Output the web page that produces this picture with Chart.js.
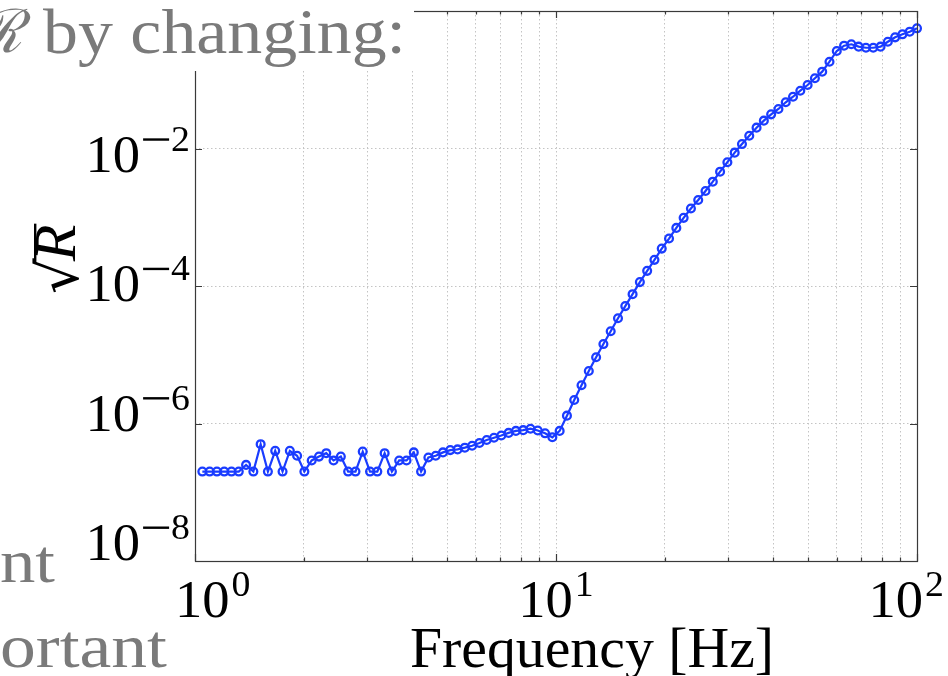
<!DOCTYPE html>
<html>
<head>
<meta charset="utf-8">
<script src="https://cdn.jsdelivr.net/npm/chart.js@4.4.0/dist/chart.umd.min.js"></script>
<style>
  html, body { margin: 0; padding: 0; background: #fff; }
  canvas { display: block; }
</style>
</head>
<body>
<canvas id="chart" width="948" height="676"></canvas>
<script>
// frequency grid (log spaced, 1 Hz .. 100 Hz)
const freqHz = [
  1.048, 1.098, 1.150, 1.205, 1.262, 1.322, 1.385, 1.451, 1.520, 1.592,
  1.668, 1.748, 1.831, 1.918, 2.009, 2.105, 2.205, 2.310, 2.420, 2.535,
  2.656, 2.783, 2.915, 3.054, 3.199, 3.352, 3.511, 3.678, 3.854, 4.037,
  4.229, 4.431, 4.642, 4.863, 5.094, 5.337, 5.591, 5.857, 6.136, 6.428,
  6.734, 7.055, 7.391, 7.743, 8.111, 8.498, 8.902, 9.326, 9.770, 10.235,
  10.723, 11.233, 11.768, 12.328, 12.915, 13.530, 14.175, 14.850, 15.557, 16.298,
  17.074, 17.887, 18.738, 19.630, 20.565, 21.544, 22.570, 23.645, 24.771, 25.950,
  27.186, 28.480, 29.836, 31.257, 32.745, 34.305, 35.938, 37.649, 39.442, 41.320,
  43.288, 45.349, 47.508, 49.770, 52.140, 54.623, 57.224, 59.948, 62.803, 65.793,
  68.926, 72.208, 75.646, 79.248, 83.022, 86.975, 91.116, 95.455, 100.0
];

// sqrt(R) at each frequency
const sqrtR = [
  2.0e-7, 2.0e-7, 2.0e-7, 2.0e-7, 2.0e-7, 2.0e-7, 2.5e-7, 2.0e-7, 5.0e-7, 2.0e-7,
  4.0e-7, 2.0e-7, 4.0e-7, 3.4e-7, 2.0e-7, 2.9e-7, 3.3e-7, 3.7e-7, 2.9e-7, 3.3e-7,
  2.0e-7, 2.0e-7, 3.9e-7, 2.0e-7, 2.0e-7, 3.7e-7, 2.0e-7, 2.9e-7, 2.9e-7, 3.8e-7,
  2.0e-7, 3.2e-7, 3.4e-7, 3.8e-7, 4.1e-7, 4.2e-7, 4.45e-7, 4.75e-7, 5.2e-7, 5.75e-7,
  6.2e-7, 6.7e-7, 7.3e-7, 7.8e-7, 8.0e-7, 8.4e-7, 7.9e-7, 7.2e-7, 6.3e-7, 7.8e-7,
  1.3e-6, 2.2e-6, 3.6e-6, 5.8e-6, 9.2e-6, 1.43e-5, 2.2e-5, 3.4e-5, 5.1e-5, 7.6e-5,
  1.14e-4, 1.66e-4, 2.4e-4, 3.5e-4, 4.9e-4, 7.0e-4, 9.8e-4, 1.34e-3, 1.78e-3, 2.41e-3,
  3.29e-3, 4.6e-3, 6.3e-3, 8.7e-3, 1.16e-2, 1.53e-2, 2.01e-2, 2.54e-2, 3.14e-2, 3.76e-2,
  4.7e-2, 5.66e-2, 6.93e-2, 8.39e-2, 0.105, 0.131, 0.183, 0.262, 0.313, 0.328,
  0.303, 0.292, 0.292, 0.303, 0.357, 0.414, 0.458, 0.50, 0.56
];

// ticks / grid positions
const xGridTicks = [1, 2, 3, 4, 5, 6, 7, 8, 9, 10, 20, 30, 40, 50, 60, 70, 80, 90, 100];
const xLabelExps = [0, 1, 2];
const yGridTicks = [1e-8, 1e-6, 1e-4, 1e-2, 1];
const yLabelExps = [-8, -6, -4, -2];

const lineBlue  = '#1a3cff';
const axisColor = '#3a3a3a';
const slideGrey = '#7a7a7a';
const MANT_FONT = '52px "Liberation Serif"';
const EXP_FONT  = '36px "Liberation Serif"';
const STRETCH   = 1.05;

function powerWidth(ctx, exp) {
  ctx.font = MANT_FONT;
  const wm = ctx.measureText('10').width * STRETCH;
  ctx.font = EXP_FONT;
  const wd = ctx.measureText(String(Math.abs(exp))).width * STRETCH;
  const wneg = exp < 0 ? 29 : 0;
  return { wm, wd, wneg, total: wm + 2 + wneg + wd };
}

// draws 10^exp with its left edge at `left` and mantissa baseline at `base`
function drawPower(ctx, exp, left, base) {
  const p = powerWidth(ctx, exp);
  ctx.save();
  ctx.translate(left, base);
  ctx.scale(STRETCH, 1);
  ctx.font = MANT_FONT;
  ctx.fillText('10', 0, 0);
  ctx.restore();
  let x = left + p.wm + 2;
  if (exp < 0) {
    ctx.fillRect(x + 1, base - 33.5, 26, 2.4);
    x += p.wneg;
  }
  ctx.save();
  ctx.translate(x, base - 21);
  ctx.scale(STRETCH, 1);
  ctx.font = EXP_FONT;
  ctx.fillText(String(Math.abs(exp)), 0, 0);
  ctx.restore();
}

// text squeezed/stretched to a given width
function fitText(ctx, str, x, y, width, font, color) {
  ctx.save();
  ctx.font = font;
  const w = ctx.measureText(str).width;
  ctx.translate(x, y);
  ctx.scale(width / w, 1);
  ctx.fillStyle = color;
  ctx.textAlign = 'left';
  ctx.fillText(str, 0, 0);
  ctx.restore();
}

const axesPlugin = {
  id: 'axesPlugin',
  afterDraw(chart) {
    const ctx = chart.ctx;
    const a = chart.chartArea;
    const xs = chart.scales.x;
    const ys = chart.scales.y;

    ctx.save();
    ctx.strokeStyle = axisColor;
    ctx.lineWidth = 1.2;

    // inward tick marks on all four sides
    ctx.beginPath();
    xGridTicks.forEach(v => {
      const px = Math.round(xs.getPixelForValue(v)) + 0.5;
      const major = Math.abs(Math.log10(v) % 1) < 1e-9;
      const len = major ? 7 : 3.5;
      ctx.moveTo(px, a.bottom); ctx.lineTo(px, a.bottom - len);
      ctx.moveTo(px, a.top);    ctx.lineTo(px, a.top + len);
    });
    yGridTicks.forEach(v => {
      const py = Math.round(ys.getPixelForValue(v)) + 0.5;
      ctx.moveTo(a.left, py);  ctx.lineTo(a.left + 7, py);
      ctx.moveTo(a.right, py); ctx.lineTo(a.right - 7, py);
    });
    ctx.stroke();

    // axes box
    ctx.strokeRect(a.left + 0.5, a.top + 0.5, a.right - a.left, a.bottom - a.top);

    // tick labels
    ctx.fillStyle = '#000';
    ctx.textBaseline = 'alphabetic';
    xLabelExps.forEach(e => {
      const px = xs.getPixelForValue(Math.pow(10, e));
      const w = powerWidth(ctx, e).total;
      let left = px - w / 2;
      left = Math.max(left, 175);
      left = Math.min(left, chart.width - 4 - w);
      drawPower(ctx, e, left, 617);
    });
    yLabelExps.forEach(e => {
      const py = ys.getPixelForValue(Math.pow(10, e));
      const w = powerWidth(ctx, e).total;
      const base = a.bottom - 1 + 0.941 * (py - a.bottom);
      drawPower(ctx, e, 190 - w, base);
    });

    // x axis title
    fitText(ctx, 'Frequency [Hz]', 410, 667, 364, '56px "Liberation Serif"', '#000');

    // y axis title: sqrt(R), rotated
    ctx.save();
    ctx.translate(78, 294);
    ctx.rotate(-Math.PI / 2);
    ctx.fillStyle = '#000';
    ctx.font = '56px "DejaVu Serif"';
    ctx.fillText('\u221A', 0, 0);
    const wr = ctx.measureText('\u221A').width;
    ctx.font = 'italic 60px "Liberation Serif"';
    ctx.fillText('R', wr - 3, -3);
    const wR = ctx.measureText('R').width;
    ctx.fillRect(wr - 5, -44, wR + 3, 2.4);
    ctx.restore();

    // slide text overlapping the figure
    ctx.fillStyle = '#fff';
    ctx.fillRect(0, 0, 414, 71);
    ctx.font = 'italic 60px "DejaVu Serif"';
    ctx.fillStyle = slideGrey;
    ctx.textAlign = 'right';
    ctx.fillText('\u211B', 22, 52);
    ctx.textAlign = 'left';
    fitText(ctx, 'by changing:', 43, 53, 363, '64px "Liberation Serif"', slideGrey);
    fitText(ctx, 'nt', 0, 582, 55, '62px "Liberation Serif"', slideGrey);
    fitText(ctx, 'ortant', 0, 667, 167, '62px "Liberation Serif"', slideGrey);

    ctx.restore();
  }
};

const canvas = document.getElementById('chart');

new Chart(canvas, {
  type: 'line',
  data: {
    datasets: [{
      data: freqHz.map((f, i) => ({ x: f, y: sqrtR[i] })),
      borderColor: lineBlue,
      borderWidth: 2.2,
      pointRadius: 3.9,
      pointBorderWidth: 2.3,
      pointBackgroundColor: 'rgba(0,0,0,0)',
      pointBorderColor: lineBlue,
      tension: 0,
      clip: 10
    }]
  },
  options: {
    responsive: false,
    animation: false,
    devicePixelRatio: 1,
    layout: { padding: { top: 11, right: 31, left: 0, bottom: 0 } },
    plugins: {
      legend: { display: false },
      tooltip: { enabled: false }
    },
    scales: {
      x: {
        type: 'logarithmic',
        min: 1,
        max: 100,
        afterBuildTicks: s => { s.ticks = xGridTicks.map(v => ({ value: v })); },
        afterFit: s => { s.height = 115; },
        ticks: { display: false },
        grid: { color: '#c4c4c4', lineWidth: 1, drawTicks: false },
        border: { display: false, dash: [1.5, 2.5] }
      },
      y: {
        type: 'logarithmic',
        min: 1e-8,
        max: 1,
        afterBuildTicks: s => { s.ticks = yGridTicks.map(v => ({ value: v })); },
        afterFit: s => { s.width = 195; },
        ticks: { display: false },
        grid: { color: '#c4c4c4', lineWidth: 1, drawTicks: false },
        border: { display: false, dash: [1.5, 2.5] }
      }
    }
  },
  plugins: [axesPlugin]
});
</script>
</body>
</html>
